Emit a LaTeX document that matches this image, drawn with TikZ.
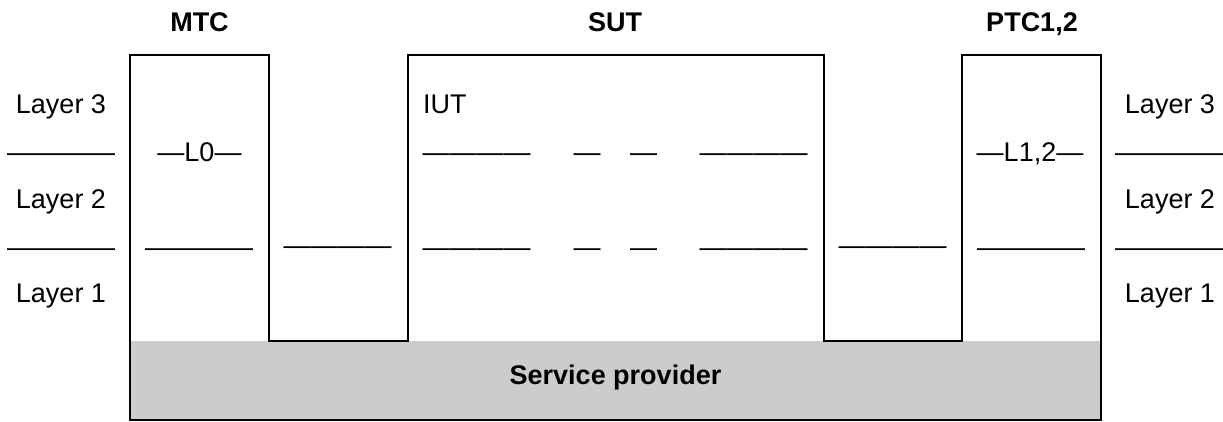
\documentclass[tikz,border=0pt]{standalone}
\usepackage{fontspec}
\setmainfont{Liberation Sans}

\begin{document}
\begin{tikzpicture}[
   x=1pt, y=-1pt,
   every node/.append style={inner sep=0pt, anchor=base,
      font=\fontsize{27}{32}\selectfont},
   title/.style={font=\fontsize{27}{32}\selectfont\bfseries},
   frame/.style={line width=1.3pt}   % <-- outline of the test system
]
\useasboundingbox (0,0) rectangle (1223,421);

% service provider underneath
\fill[black!20] (130,341) rectangle (1101,420);
\draw[frame] (130,55) -- (269,55) -- (269,341) -- (408,341) -- (408,55)
   -- (824,55) -- (824,341) -- (962,341) -- (962,55) -- (1101,55)
   -- (1101,420) -- (130,420) -- cycle;
\node[title] (sp) at (615.5,384) {Service provider};

% headings
\node[title] (mtc) at (199.5,31) {MTC};
\node[title] (sut) at (615,31) {SUT};
\node[title] (ptc) at (1032,31) {PTC1,2};

% layer names, both sides
\node (l3a) at (61,113.5) {Layer 3};
\node (l2a) at (61,208) {Layer 2};
\node (l1a) at (61,302.5) {Layer 1};
\node (l3b) at (1170,113.5) {Layer 3};
\node (l2b) at (1170,208) {Layer 2};
\node (l1b) at (1170,302.5) {Layer 1};

% layer boundaries
\node (ra1) at (61,161.5) {————};
\node (ra2) at (61,256.5) {————};
\node (rb1) at (1169,161.5) {————};
\node (rb2) at (1169,256.5) {————};

% MTC
\node (lzero) at (199.5,161.5) {—L0—};
\node (mtc2) at (199,256.5) {————};
\node (dipa) at (337.5,254) {————};

% SUT
\node (iut) [anchor=base west] at (423,113) {IUT};
\node (sa1) at (476.5,161.5) {————};
\node (sb1) at (587,161.5) {—};
\node (sc1) at (643.5,161.5) {—};
\node (sd1) at (753.5,161.5) {————};
\node (sa2) at (476.5,256.5) {————};
\node (sb2) at (587,256.5) {—};
\node (sc2) at (643.5,256.5) {—};
\node (sd2) at (753.5,256.5) {————};
\node (dipb) at (892.5,254) {————};

% PTC
\node (lonetwo) at (1030,161.5) {—L1,2—};
\node (ptc2) at (1031,256.5) {————};
\end{tikzpicture}
\end{document}
